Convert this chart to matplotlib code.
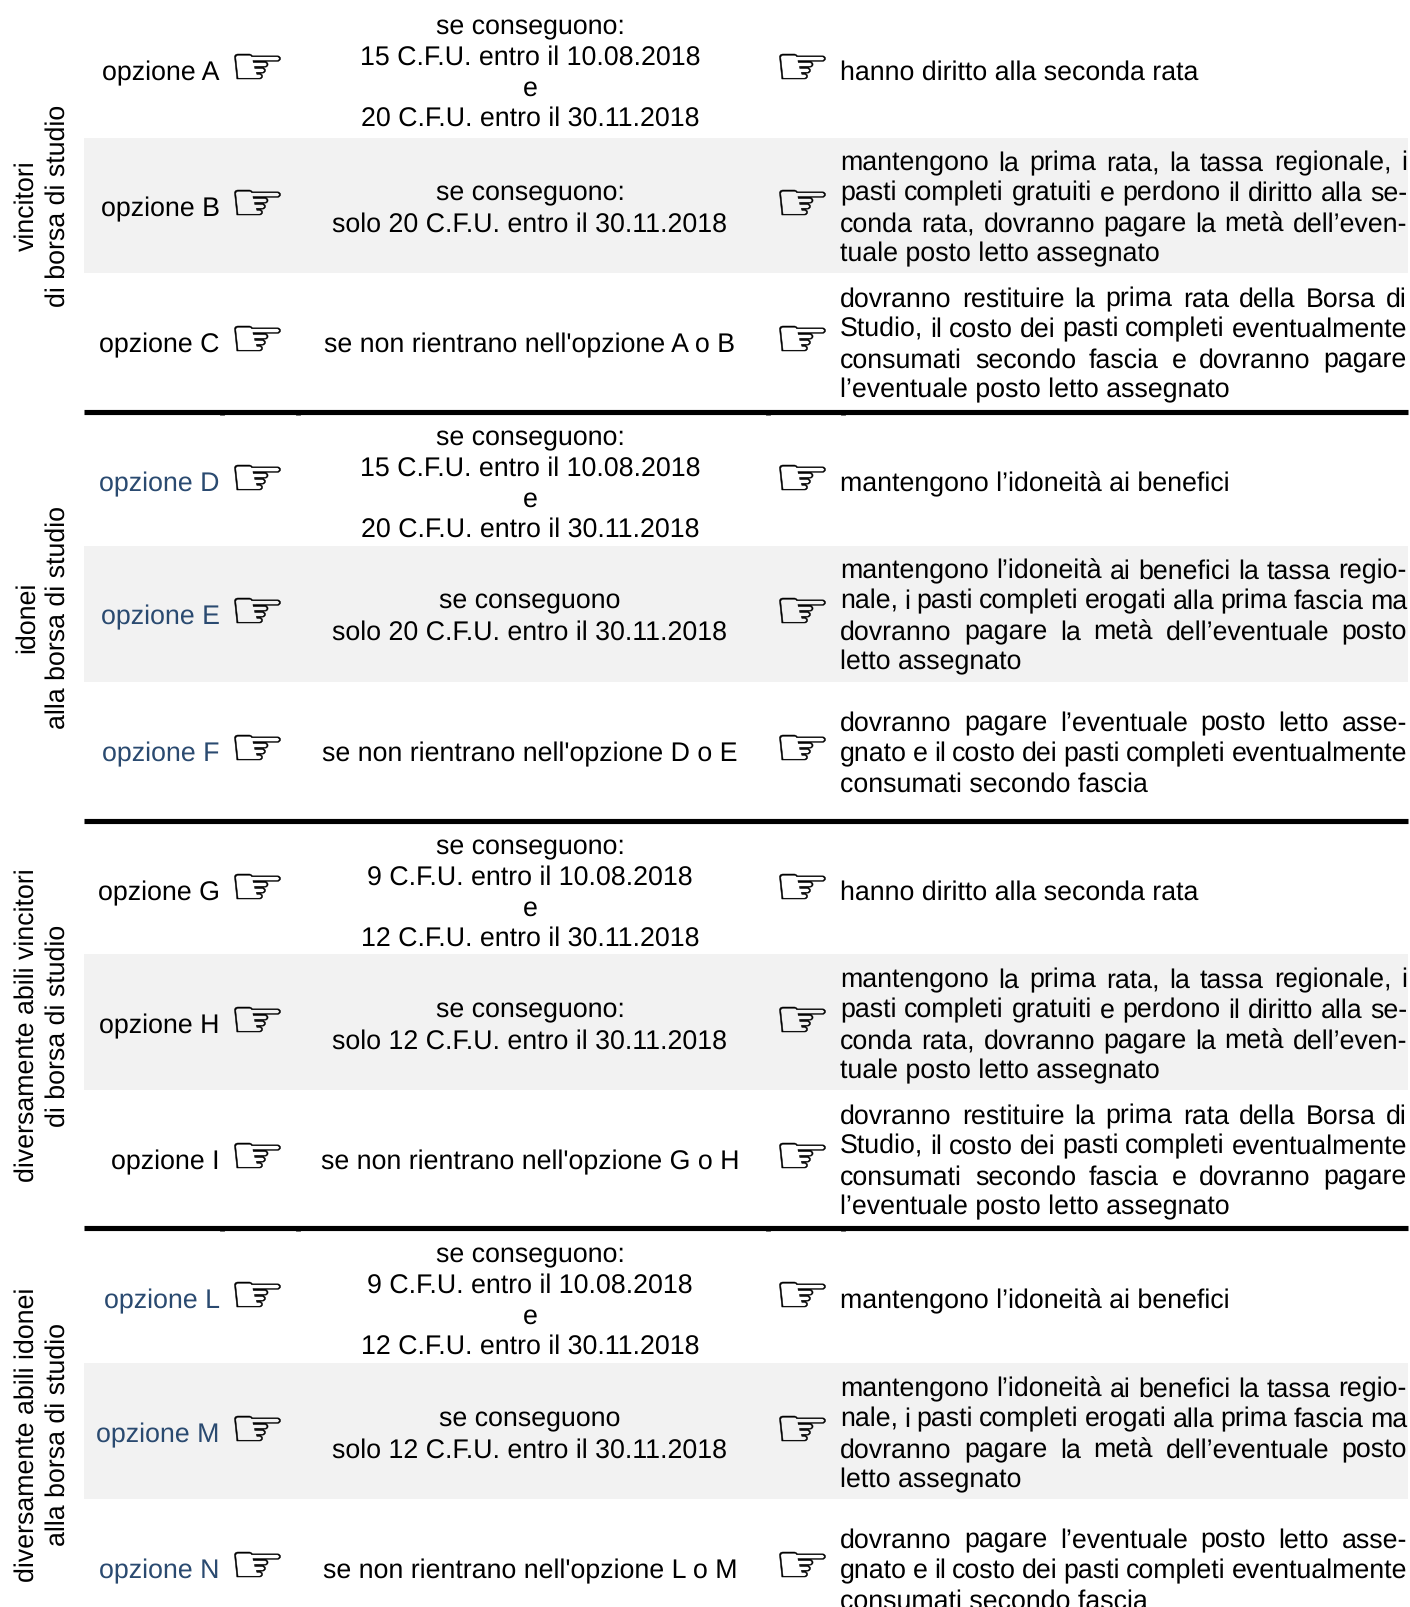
import matplotlib
matplotlib.use("Agg")
import matplotlib.pyplot as plt
from matplotlib.font_manager import FontProperties
from matplotlib.patches import PathPatch
from matplotlib.textpath import TextPath
from matplotlib.transforms import Affine2D

plt.rcParams["text.hinting"] = "no_hinting"

W, H = 1410, 1608
options = ["opzione A", "opzione B", "opzione C", "opzione D", "opzione E", "opzione F",
           "opzione G", "opzione H", "opzione I", "opzione L", "opzione M", "opzione N"]
option_blue = [False, False, False, True, True, True, False, False, False, True, True, True]
conditions = [
    ["se conseguono:", "15 C.F.U. entro il 10.08.2018", "e", "20 C.F.U. entro il 30.11.2018"],
    ["se conseguono:", "solo 20 C.F.U. entro il 30.11.2018"],
    ["se non rientrano nell'opzione A o B"],
    ["se conseguono:", "15 C.F.U. entro il 10.08.2018", "e", "20 C.F.U. entro il 30.11.2018"],
    ["se conseguono", "solo 20 C.F.U. entro il 30.11.2018"],
    ["se non rientrano nell'opzione D o E"],
    ["se conseguono:", "9 C.F.U. entro il 10.08.2018", "e", "12 C.F.U. entro il 30.11.2018"],
    ["se conseguono:", "solo 12 C.F.U. entro il 30.11.2018"],
    ["se non rientrano nell'opzione G o H"],
    ["se conseguono:", "9 C.F.U. entro il 10.08.2018", "e", "12 C.F.U. entro il 30.11.2018"],
    ["se conseguono", "solo 12 C.F.U. entro il 30.11.2018"],
    ["se non rientrano nell'opzione L o M"],
]
R_A = ["hanno diritto alla seconda rata"]
R_B = ["mantengono la prima rata, la tassa regionale, i",
       "pasti completi gratuiti e perdono il diritto alla se-",
       "conda rata, dovranno pagare la metà dell’even-",
       "tuale posto letto assegnato"]
R_C = ["dovranno restituire la prima rata della Borsa di",
       "Studio, il costo dei pasti completi eventualmente",
       "consumati secondo fascia e dovranno pagare",
       "l’eventuale posto letto assegnato"]
R_D = ["mantengono l’idoneità ai benefici"]
R_E = ["mantengono l’idoneità ai benefici la tassa regio-",
       "nale, i pasti completi erogati alla prima fascia ma",
       "dovranno pagare la metà dell’eventuale posto",
       "letto assegnato"]
R_F = ["dovranno pagare l’eventuale posto letto asse-",
       "gnato e il costo dei pasti completi eventualmente",
       "consumati secondo fascia"]
results = [R_A, R_B, R_C, R_D, R_E, R_F, R_A, R_B, R_C, R_D, R_E, R_F]
groups = [["vincitori", "di borsa di studio"],
          ["idonei", "alla borsa di studio"],
          ["diversamente abili vincitori", "di borsa di studio"],
          ["diversamente abili idonei", "alla borsa di studio"]]

# layout, in image pixels
row_mid = [71, 207, 343, 482, 615, 752, 891, 1024, 1160, 1299, 1433, 1569]
bands = [(139, 274), (547, 683), (955, 1091), (1364, 1500)]
rules = [413, 821.5, 1229]
stub_rules = [413, 1229]
stubs = [222, 298, 768, 843]
group_mid = [205.5, 617, 1025.5, 1434.5]
group_x = [27, 58]
X0, X1 = 84, 1408
RX = 840
PITCH = 30.5
FS = 19.25
BASE = 9
HAND_W, HAND_H = 46, 25

fig = plt.figure(figsize=(W / 100, H / 100), dpi=100)
ax = fig.add_axes([0, 0, 1, 1])
ax.set_xlim(0, W)
ax.set_ylim(H, 0)
ax.axis("off")
font = "Liberation Sans"

for top, bottom in bands:
    ax.fill_between([X0, X1], top, bottom, color="#F2F2F2", lw=0, zorder=0)
for y in rules:
    ax.plot([X0, X1], [y, y], color="black", lw=3.7, solid_capstyle="butt", zorder=1)
for y in stub_rules:
    for x in stubs:
        ax.plot([x, x], [y, y + 3.2], color="black", lw=3.5, solid_capstyle="butt", zorder=1)

renderer = fig.canvas.get_renderer()

hand = TextPath((0, 0), "\u261e", size=100, prop=FontProperties(family="DejaVu Sans"))
hb = hand.get_extents()


def draw_hand(cx, cy):
    tr = (Affine2D().translate(-(hb.x0 + hb.x1) / 2, -(hb.y0 + hb.y1) / 2)
          .scale(HAND_W / hb.width, -HAND_H / hb.height).translate(cx, cy))
    ax.add_patch(PathPatch(hand, transform=tr + ax.transData, facecolor="black",
                           edgecolor="black", lw=0.35, zorder=2))


def width(s):
    t = ax.text(0, 0, s, fontsize=FS, family=font)
    w = t.get_window_extent(renderer).width
    t.remove()
    return w


def justified(line, y):
    words = line.split(" ")
    ws = [width(w) for w in words]
    gap = (X1 - 1 - RX - sum(ws)) / (len(words) - 1)
    x = RX
    for w, wd in zip(words, ws):
        ax.text(x, y, w, fontsize=FS, family=font, va="baseline", ha="left", color="black")
        x += wd + gap


for i, mid in enumerate(row_mid):
    ax.text(219.5, mid + BASE, options[i], fontsize=FS, family=font, ha="right", va="baseline",
            color="#2A4A70" if option_blue[i] else "black")
    for hx in (257.5, 802.5):
        draw_hand(hx, mid - 3.5)
    cond = conditions[i]
    for k, line in enumerate(cond):
        y = mid + (k - (len(cond) - 1) / 2) * PITCH + BASE
        ax.text(530, y, line, fontsize=FS, family=font, ha="center", va="baseline", color="black")
    res = results[i]
    for k, line in enumerate(res):
        y = mid + (k - (len(res) - 1) / 2) * PITCH + BASE
        if k < len(res) - 1:
            justified(line, y)
        else:
            ax.text(RX, y, line, fontsize=FS, family=font, ha="left", va="baseline", color="black")

for g, mid in zip(groups, group_mid):
    for x, line in zip(group_x, g):
        ax.text(x, mid, line, fontsize=FS, family=font, rotation=90, ha="center", va="center",
                color="black")

fig.savefig("out.png", dpi=100)
